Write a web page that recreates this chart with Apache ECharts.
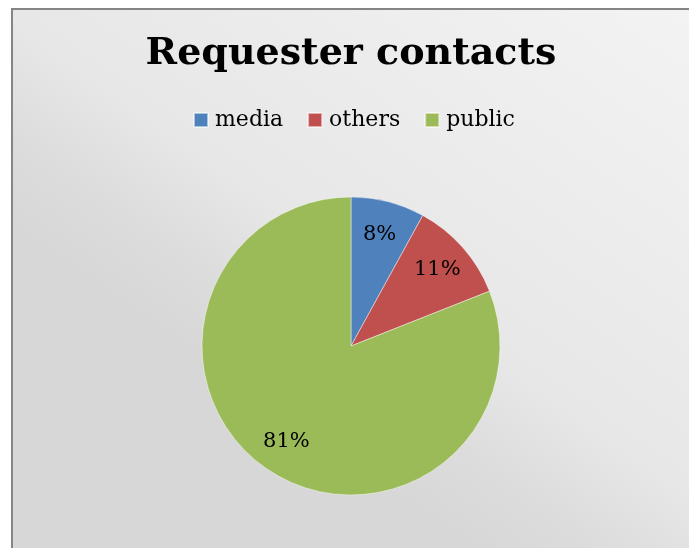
<!DOCTYPE html>
<html>
<head>
<meta charset="utf-8">
<script src="https://cdn.jsdelivr.net/npm/echarts@6/dist/echarts.min.js"></script>
<style>
  html, body { margin: 0; padding: 0; background: #fff; width: 689px; height: 548px; overflow: hidden; }
  .edge { position: absolute; background: #858585; }
  #edgeTop { left: 11px; top: 8px; width: 678px; height: 2px; }
  #edgeLeft { left: 11px; top: 8px; width: 2px; height: 540px; }
  #chart { position: absolute; left: 13px; top: 10px; width: 676px; height: 538px; }
</style>
</head>
<body>
<div id="edgeTop" class="edge"></div>
<div id="edgeLeft" class="edge"></div>
<div id="chart"></div>
<script>
// Requester contacts by type, in percent
const categories = ['media', 'others', 'public'];
const shares = [8, 11, 81];
const sliceColors = ['#4f81bd', '#c0504d', '#9bbb59'];

const serif = '"DejaVu Serif", "Liberation Serif", serif';
const pieData = categories.map((name, i) => ({ name, value: shares[i] }));

const chart = echarts.init(document.getElementById('chart'), null, { renderer: 'canvas' });
chart.setOption({
  animation: false,
  // soft grey fill, darker toward the lower left, lighter toward the upper right
  backgroundColor: {
    type: 'linear', x: -0.152, y: 0.275, x2: 0.327, y2: -0.589,
    colorStops: [
      { offset: 0, color: '#d7d7d7' },
      { offset: 0.13, color: '#dcdcdc' },
      { offset: 0.3, color: '#e7e7e7' },
      { offset: 1, color: '#f3f3f3' }
    ]
  },
  color: sliceColors,
  title: {
    text: 'Requester contacts',
    left: 'center',
    top: 20,
    textStyle: { fontFamily: serif, fontWeight: 'bold', fontSize: 38, color: '#000' }
  },
  legend: {
    data: categories,
    left: 175,
    top: 94,
    icon: 'rect',
    itemWidth: 14,
    itemHeight: 14,
    itemGap: 24,
    textStyle: { fontFamily: serif, fontSize: 22, color: '#000', padding: [0, 0, 0, 2] }
  },
  series: [
    {
      type: 'pie',
      center: [338, 336],
      radius: [0, 149],
      startAngle: 90,
      clockwise: true,
      data: pieData,
      label: { show: false },
      labelLine: { show: false },
      itemStyle: { borderColor: 'rgba(255,255,255,0.55)', borderWidth: 0.8 },
      emphasis: { disabled: true }
    },
    {
      // label ring: places the percentage text about three quarters of the way out
      type: 'pie',
      center: [338, 336],
      radius: [75, 149],
      startAngle: 90,
      clockwise: true,
      silent: true,
      data: pieData,
      itemStyle: { color: 'rgba(0,0,0,0)' },
      label: {
        show: true,
        position: 'inside',
        formatter: '{c}%',
        fontFamily: serif,
        fontSize: 21,
        color: '#000'
      },
      labelLine: { show: false },
      emphasis: { disabled: true }
    }
  ]
});
</script>
</body>
</html>
